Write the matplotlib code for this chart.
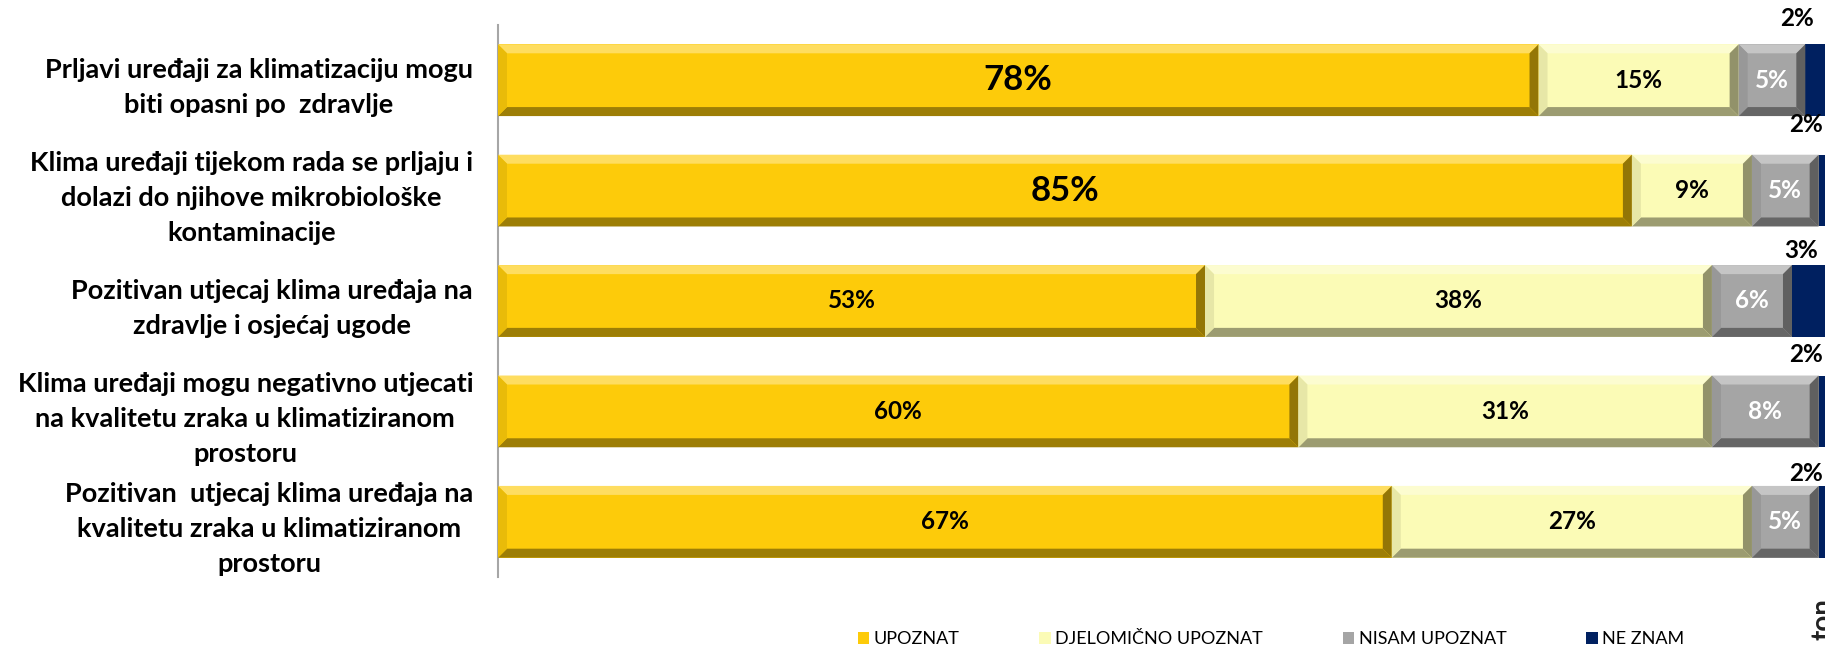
import matplotlib
matplotlib.use("Agg")
import matplotlib.pyplot as plt
from matplotlib.patches import Polygon, Patch
from matplotlib.colors import to_rgb
import numpy as np

# ---- data -------------------------------------------------------------
categories = [
    "Prljavi uređaji za klimatizaciju mogu\nbiti opasni po  zdravlje",
    "Klima uređaji tijekom rada se prljaju i\ndolazi do njihove mikrobiološke\nkontaminacije",
    "Pozitivan utjecaj klima uređaja na\nzdravlje i osjećaj ugode",
    "Klima uređaji mogu negativno utjecati\nna kvalitetu zraka u klimatiziranom\nprostoru",
    "Pozitivan  utjecaj klima uređaja na\nkvalitetu zraka u klimatiziranom\nprostoru",
]
series_names = ["UPOZNAT", "DJELOMIČNO UPOZNAT", "NISAM UPOZNAT", "NE ZNAM"]
upoznat = [78, 85, 53, 60, 67]
djelomicno = [15, 9, 38, 31, 27]
nisam = [5, 5, 6, 8, 5]
ne_znam = [2, 2, 3, 2, 2]

# ---- style ------------------------------------------------------------
colors = ["#FDCB0A", "#FBFBB6", "#A5A5A5", "#002060"]
label_colors = ["black", "black", "white", None]
FONT = "Lato"
plt.rcParams["font.family"] = [FONT, "DejaVu Sans"]

W, H, DPI = 1825, 656, 100
fig = plt.figure(figsize=(W / DPI, H / DPI), dpi=DPI)
ax_left, ax_right = 498, 1832
ax_top, ax_bottom = 25, 577
ax = fig.add_axes([ax_left / W, 1 - ax_bottom / H,
                   (ax_right - ax_left) / W, (ax_bottom - ax_top) / H])

series = [upoznat, djelomicno, nisam, ne_znam]
y = np.arange(len(categories))
bar_h = 0.65
ax.set_xlim(0, 100)
ax.set_ylim(len(categories) - 0.5, -0.5)

px_x = 100 / (ax_right - ax_left)          # data units per pixel (x)
px_y = 1.0 / ((ax_bottom - ax_top) / 5)    # data units per pixel (y)
PT = 72 / DPI                              # points per pixel

# offsets (pixels) of the small "ne znam" labels placed above each bar
top_dx = [-22, -26, -11, -26, -26]
top_dy = [26, 30, 15, 21, 12]


def shade(c, f):
    """f>0 blends toward white, f<0 toward black."""
    r = np.array(to_rgb(c))
    return tuple(r + (1 - r) * f) if f > 0 else tuple(r * (1 + f))


def bevel(rect, color, depth=9):
    x0, yb = rect.get_x(), rect.get_y()
    x1, yt = x0 + rect.get_width(), yb + rect.get_height()
    # y axis is inverted: yb is the visual top edge
    bx, by = depth * px_x, depth * px_y
    bx = min(bx, rect.get_width() / 2)
    faces = [
        ([(x0, yb), (x1, yb), (x1 - bx, yb + by), (x0 + bx, yb + by)], 0.35),   # top
        ([(x0, yt), (x1, yt), (x1 - bx, yt - by), (x0 + bx, yt - by)], -0.38),  # bottom
        ([(x0, yb), (x0 + bx, yb + by), (x0 + bx, yt - by), (x0, yt)], -0.08),  # left
        ([(x1, yb), (x1 - bx, yb + by), (x1 - bx, yt - by), (x1, yt)], -0.42),  # right
    ]
    for pts, f in faces:
        ax.add_patch(Polygon(pts, closed=True, facecolor=shade(color, f),
                             edgecolor="none", zorder=3))


left = np.zeros(len(categories))
for s_idx, (vals, col) in enumerate(zip(series, colors)):
    bars = ax.barh(y, vals, left=left, height=bar_h, color=col,
                   edgecolor="none", zorder=2)
    for i, (rect, v) in enumerate(zip(bars, vals)):
        if s_idx < 3:
            bevel(rect, col)
        cx = left[i] + v / 2
        if s_idx == 3:
            # small share written above the end of the bar
            ax.annotate(f"{v}%", xy=(cx, y[i] - bar_h / 2),
                        xytext=(top_dx[i] * PT, top_dy[i] * PT),
                        textcoords="offset points", ha="center", va="center",
                        fontsize=17.5, fontweight="bold", color="black",
                        annotation_clip=False, zorder=5)
        else:
            big = (s_idx == 0 and i < 2)
            ax.text(cx, y[i], f"{v}%", ha="center", va="center",
                    fontsize=25 if big else 17.5, fontweight="bold",
                    color=label_colors[s_idx], zorder=5)
    left += np.array(vals)

# axes decoration
for sp in ["top", "right", "bottom"]:
    ax.spines[sp].set_visible(False)
ax.spines["left"].set_color("#A6A6A6")
ax.spines["left"].set_linewidth(1.5)
ax.set_xticks([])
ax.set_yticks(y)
ax.set_yticklabels(categories, fontsize=19.5, fontweight="bold",
                   multialignment="center", linespacing=1.55)
ax.tick_params(axis="y", length=0, pad=18)

# legend
handles = [Patch(facecolor=c, edgecolor="none") for c in colors]
fig.legend(handles, series_names, loc="center", ncol=4,
           bbox_to_anchor=(1271 / W, 1 - 639 / H), frameon=False,
           fontsize=13, handlelength=0.65, handleheight=0.65,
           handletextpad=0.25, columnspacing=4.4)

# clipped logo fragment at the lower right edge
fig.text(1811 / W, 1 - 598 / H, "ton", rotation=90, ha="left", va="top",
         fontsize=20, fontweight="bold", color="#222222")

fig.savefig("out.png", dpi=DPI)
